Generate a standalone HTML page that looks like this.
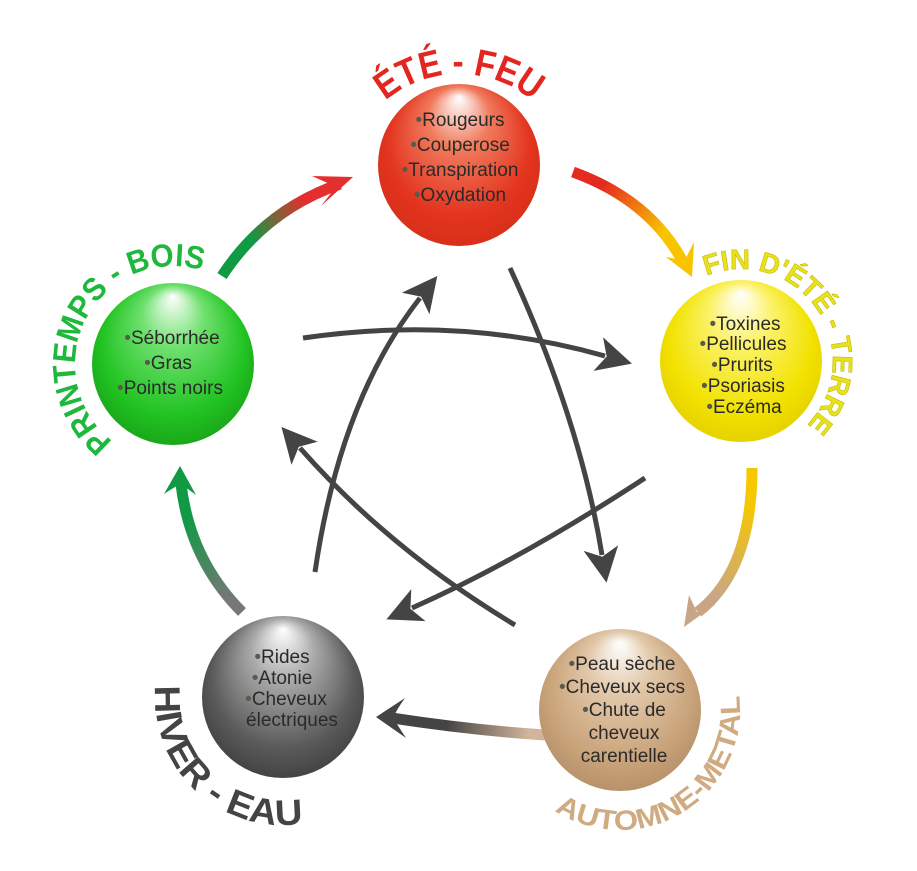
<!DOCTYPE html>
<html><head><meta charset="utf-8"><style>
html,body{margin:0;padding:0;background:#fff;}
svg{display:block;}
.lbl{font-family:"Liberation Sans",sans-serif;font-weight:bold;}
.it{font-family:"Liberation Sans",sans-serif;font-size:19px;fill:#2a2a2a;text-anchor:middle;}
.b{fill:#5a5a4a;}
</style></head><body>
<svg width="917" height="871" viewBox="0 0 917 871" xmlns="http://www.w3.org/2000/svg">
<defs>
<radialGradient id="gR" cx="50%" cy="45%" r="55%" fx="50%" fy="8%"><stop offset="0" stop-color="#fff"/><stop offset="0.35" stop-color="#f07a5c"/><stop offset="0.8" stop-color="#e3341f"/><stop offset="1" stop-color="#d8301a"/></radialGradient>
<radialGradient id="gY" cx="50%" cy="45%" r="55%" fx="50%" fy="8%"><stop offset="0" stop-color="#fff"/><stop offset="0.35" stop-color="#fbf26a"/><stop offset="0.8" stop-color="#f2e200"/><stop offset="1" stop-color="#e6d200"/></radialGradient>
<radialGradient id="gG" cx="50%" cy="45%" r="55%" fx="50%" fy="8%"><stop offset="0" stop-color="#fff"/><stop offset="0.35" stop-color="#6ee06e"/><stop offset="0.8" stop-color="#22c322"/><stop offset="1" stop-color="#1aa81a"/></radialGradient>
<radialGradient id="gK" cx="50%" cy="45%" r="55%" fx="50%" fy="8%"><stop offset="0" stop-color="#fff"/><stop offset="0.35" stop-color="#aaa"/><stop offset="0.8" stop-color="#5a5a5a"/><stop offset="1" stop-color="#444"/></radialGradient>
<radialGradient id="gB" cx="50%" cy="45%" r="55%" fx="50%" fy="8%"><stop offset="0" stop-color="#fff"/><stop offset="0.35" stop-color="#e2c9aa"/><stop offset="0.8" stop-color="#c9a37a"/><stop offset="1" stop-color="#b8926a"/></radialGradient>
<linearGradient id="a1" gradientUnits="userSpaceOnUse" x1="228" y1="280" x2="340" y2="185"><stop offset="0.3" stop-color="#109a44"/><stop offset="0.75" stop-color="#e52e2e"/></linearGradient>
<linearGradient id="a2" gradientUnits="userSpaceOnUse" x1="573" y1="172" x2="690" y2="272"><stop offset="0.2" stop-color="#e52a20"/><stop offset="0.7" stop-color="#f8c400"/></linearGradient>
<linearGradient id="a3" gradientUnits="userSpaceOnUse" x1="752" y1="468" x2="690" y2="625"><stop offset="0.2" stop-color="#f5c800"/><stop offset="0.8" stop-color="#c9a588"/></linearGradient>
<linearGradient id="a4" gradientUnits="userSpaceOnUse" x1="545" y1="735" x2="380" y2="718"><stop offset="0.1" stop-color="#d2b49a"/><stop offset="0.6" stop-color="#444"/></linearGradient>
<linearGradient id="a5" gradientUnits="userSpaceOnUse" x1="240" y1="612" x2="180" y2="470"><stop offset="0.1" stop-color="#777"/><stop offset="0.7" stop-color="#109a44"/></linearGradient>
<marker id="m" viewBox="0 0 10 10" refX="2" refY="5" markerWidth="7" markerHeight="7" orient="auto" markerUnits="strokeWidth"><path d="M0,0 L10,5 L0,10 L2.5,5 z" fill="#444"/></marker>
<path id="pR" d="M344,189 A115,115 0 0 1 574,189"/>
<path id="pY" d="M706.5,275.7 A92,92 0 0 1 806,426"/>
<path id="pG" d="M112.7,441.2 A98,98 0 0 1 206.5,271.9"/>
<path id="pK" d="M155.5,685.8 A128,128 0 0 0 305.2,823"/>
<path id="pB" d="M554.6,810.6 A120,120 0 0 0 738.2,689.2"/>
</defs>

<g fill="none" stroke="#444" stroke-width="5">
<path d="M303,338 Q460,315 605,356" marker-end="url(#m)"/>
<path d="M510,268 Q580,420 602,555" marker-end="url(#m)"/>
<path d="M645,478 Q520,560 412,608" marker-end="url(#m)"/>
<path d="M515,625 Q390,550 300,448" marker-end="url(#m)"/>
<path d="M315,572 Q340,400 420,298" marker-end="url(#m)"/>
</g>

<path d="M222,276 Q265,210 340,184" fill="none" stroke="url(#a1)" stroke-width="11"/>
<path d="M353,177 L312,176 Q330,184 336,187 L321,206 Z" fill="#e52e2e"/>
<path d="M573,172 Q650,200 683,262" fill="none" stroke="url(#a2)" stroke-width="11"/>
<path d="M692,277 L666,257 Q679,259 684,262 L694,242 Z" fill="#f8c400"/>
<path d="M752,468 Q752,570 698,612" fill="none" stroke="url(#a3)" stroke-width="11"/>
<path d="M684,627 L689,595 Q694,606 697,612 L716,604 Z" fill="#c9a588"/>
<path d="M545,735 Q470,730 392,718" fill="none" stroke="url(#a4)" stroke-width="11"/>
<path d="M376,717 L405,698 Q397,709 393,718 L406,738 Z" fill="#444"/>
<path d="M242,612 Q190,560 181,484" fill="none" stroke="url(#a5)" stroke-width="11"/>
<path d="M180,466 L164,494 Q176,486 181,484 L196,495 Z" fill="#109a44"/>

<circle cx="459" cy="165" r="81" fill="url(#gR)"/>
<circle cx="741" cy="361" r="81" fill="url(#gY)"/>
<circle cx="173" cy="364" r="81" fill="url(#gG)"/>
<circle cx="283" cy="697" r="81" fill="url(#gK)"/>
<circle cx="620" cy="710" r="81" fill="url(#gB)"/>

<text class="lbl" font-size="38" fill="#e3261f"><textPath href="#pR" startOffset="50%" text-anchor="middle" textLength="160" lengthAdjust="spacingAndGlyphs">ÉTÉ - FEU</textPath></text>
<text class="lbl" font-size="28" fill="#e8e21c" stroke="#c8b800" stroke-width="0.6"><textPath href="#pY" textLength="250" lengthAdjust="spacingAndGlyphs">FIN D'ÉTÉ - TERRE</textPath></text>
<text class="lbl" font-size="32" fill="#1db83c"><textPath href="#pG" textLength="272" lengthAdjust="spacingAndGlyphs">PRINTEMPS - BOIS</textPath></text>
<text class="lbl" font-size="36" fill="#444"><textPath href="#pK" textLength="232" lengthAdjust="spacingAndGlyphs">HIVER - EAU</textPath></text>
<text class="lbl" font-size="28" fill="#d0aa80"><textPath href="#pB" textLength="272" lengthAdjust="spacingAndGlyphs">AUTOMNE-METAL</textPath></text>

<g class="it">
<text x="460" y="126"><tspan class="b">•</tspan>Rougeurs</text>
<text x="460" y="151"><tspan class="b">•</tspan>Couperose</text>
<text x="460" y="176"><tspan class="b">•</tspan>Transpiration</text>
<text x="460" y="201"><tspan class="b">•</tspan>Oxydation</text>

<text x="745" y="330"><tspan class="b">•</tspan>Toxines</text>
<text x="743" y="350"><tspan class="b">•</tspan>Pellicules</text>
<text x="742" y="371"><tspan class="b">•</tspan>Prurits</text>
<text x="743" y="392"><tspan class="b">•</tspan>Psoriasis</text>
<text x="744" y="413"><tspan class="b">•</tspan>Eczéma</text>

<text x="172" y="344"><tspan class="b">•</tspan>Séborrhée</text>
<text x="168" y="369"><tspan class="b">•</tspan>Gras</text>
<text x="170" y="394"><tspan class="b">•</tspan>Points noirs</text>

<text x="282" y="663"><tspan class="b">•</tspan>Rides</text>
<text x="282" y="684"><tspan class="b">•</tspan>Atonie</text>
<text x="286" y="705"><tspan class="b">•</tspan>Cheveux</text>
<text x="292" y="726">électriques</text>

<text x="622" y="670"><tspan class="b">•</tspan>Peau sèche</text>
<text x="622" y="693"><tspan class="b">•</tspan>Cheveux secs</text>
<text x="624" y="716"><tspan class="b">•</tspan>Chute de</text>
<text x="624" y="739">cheveux</text>
<text x="624" y="762">carentielle</text>
</g>
</svg>
</body></html>
